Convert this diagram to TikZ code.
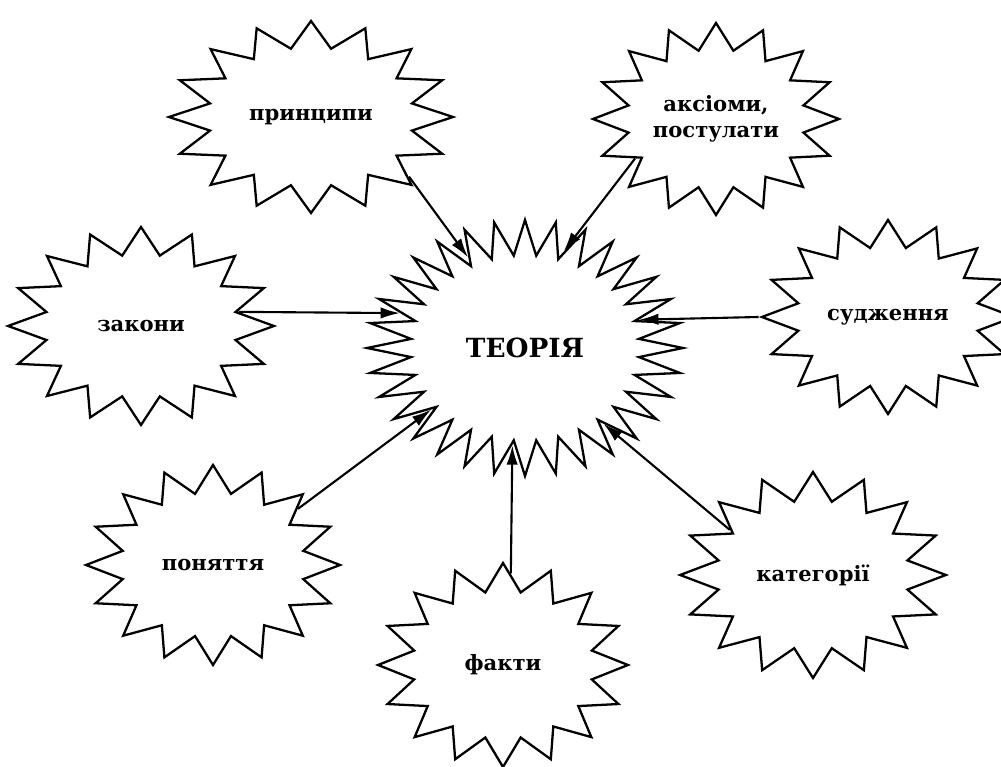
\documentclass[tikz,border=0pt]{standalone}
\usepackage{fontspec}
\setmainfont{DejaVu Serif}
\usetikzlibrary{shapes.geometric,arrows.meta}

\begin{document}
\begin{tikzpicture}[
        burst/.style={star, star points=16, star point ratio=1.38, draw, line width=1.3pt, inner sep=0pt},
        bigburst/.style={burst, star points=32},
        lbl/.style={font=\bfseries\fontsize{12}{15}\selectfont, align=center},
        arrow/.style={-{Latex[length=11pt,width=6.5pt]}, line width=1.2pt}
    ]
        \useasboundingbox (0,0) rectangle (20.02,-15.34);

        % the star shapes
        \node[bigburst, minimum size=5.12cm, xscale=1.234] (teo) at (10.5, -6.96) {};
        \node[burst, minimum size=3.84cm, xscale=1.479] (prn) at (6.22, -2.34) {};
        \node[burst, minimum size=3.84cm, xscale=1.281] (aks) at (14.32, -2.38) {};
        \node[burst, minimum size=3.96cm, xscale=1.343] (zak) at (2.82, -6.52) {};
        \node[burst, minimum size=3.88cm, xscale=1.3] (sud) at (17.76, -6.34) {};
        \node[burst, minimum size=4.0cm, xscale=1.27] (pon) at (4.26, -11.3) {};
        \node[burst, minimum size=4.08cm, xscale=1.225] (fak) at (10.06, -13.3) {};
        \node[burst, minimum size=4.12cm, xscale=1.29] (kat) at (16.26, -11.5) {};

        % the texts
        \node[lbl, font=\bfseries\fontsize{15}{17}\selectfont] (teo-t) at (teo) {ТЕОРІЯ};
        \node[lbl] (prn-t) at (prn) {принципи};
        \node[lbl] (aks-t) at (aks) {аксіоми,\\постулати};
        \node[lbl] (zak-t) at (zak) {закони};
        \node[lbl] (sud-t) at (sud) {судження};
        \node[lbl] (pon-t) at (pon) {поняття};
        \node[lbl] (fak-t) at (fak) {факти};
        \node[lbl] (kat-t) at (kat) {категорії};

        \draw[arrow] (prn.-42) -- (teo.117);
        \draw[arrow] (aks.212) -- (teo.72);
        \draw[arrow] (zak.11) -- (teo.161);
        \draw[arrow] (sud.west) -- (teo.17);
        \draw[arrow] (pon.40) -- (teo.219);
        \draw[arrow] (fak.86) -- (teo.264);
        \draw[arrow] (kat.145) -- (teo.310);
    \end{tikzpicture}
\end{document}
